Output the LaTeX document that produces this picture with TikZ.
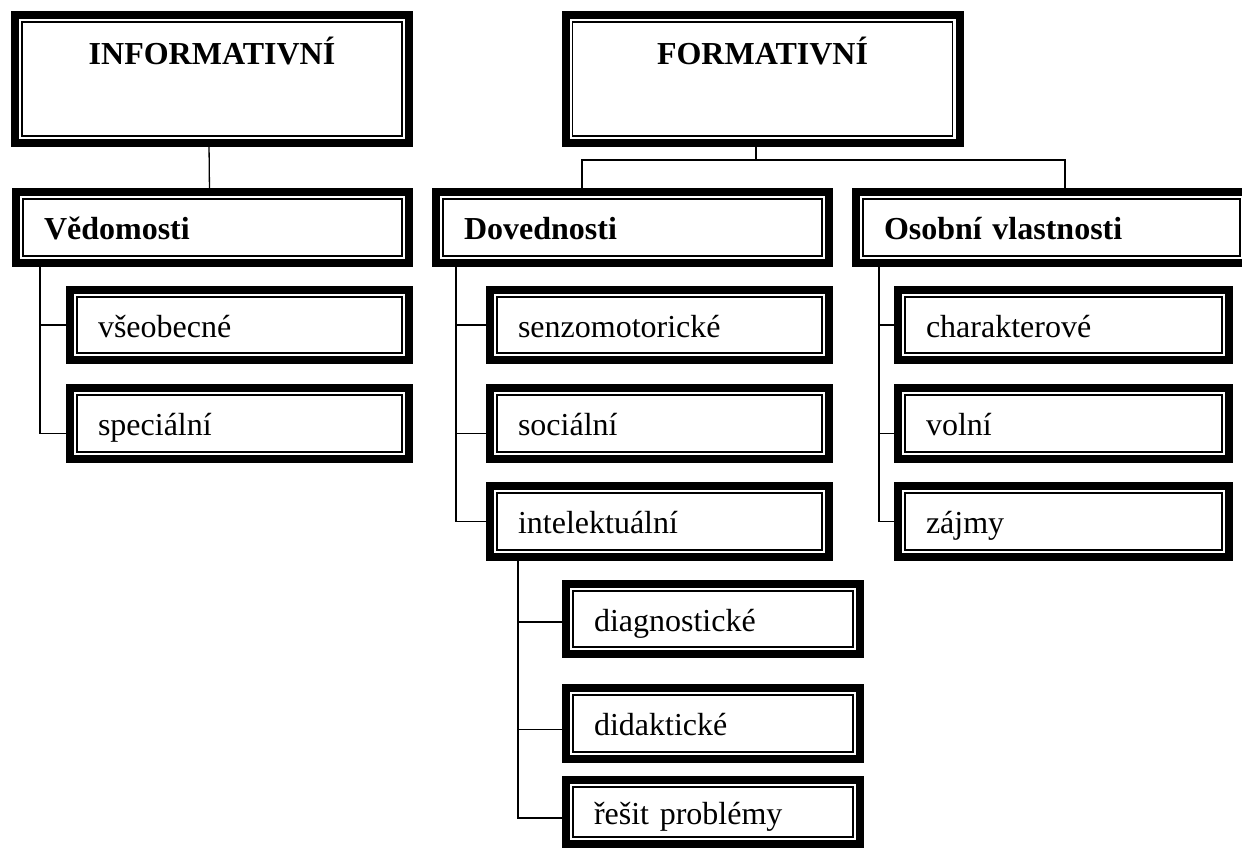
\documentclass[tikz,border=0pt]{standalone}
\usepackage{fontspec}
\setmainfont{Liberation Serif}
\tikzset{
  box/.style 2 args={draw,line width=8pt,inner xsep=28pt,inner ysep=0pt,outer sep=0pt,
    minimum width=#1,text width=#2,minimum height=70pt,align=left,
    text height=26pt,text depth=2pt,font=\fontsize{32}{38}\selectfont,
    path picture={\draw[line width=1.6pt]
      ([xshift=7pt,yshift=-7pt]path picture bounding box.north west) rectangle
      ([xshift=-7pt,yshift=7pt]path picture bounding box.south east);}},
  head/.style={font=\bfseries\fontsize{32}{38}\selectfont},
  top/.style={box={394pt}{338pt},head,align=center,minimum height=128pt,
    text height=22pt,text depth=50pt},
  link/.style={line width=1.3pt}
}
\begin{document}
\begin{tikzpicture}[x=1pt,y=-1pt]
                \useasboundingbox (0,0) rectangle (1242,850);
                % top level
                \node[top] (inf) at (212,79) {INFORMATIVNÍ};
                \node[top] (form) at (762.5,79) {FORMATIVNÍ};
                % second level
                \node[box={393pt}{337pt},head,minimum height=71pt] (ved) at (212.5,227.5) {Vědomosti};
                \node[box={393pt}{337pt},head,minimum height=71pt] (dov) at (632.5,227.5) {Dovednosti};
                \node[box={391pt}{335pt},head,minimum height=71pt] (osv) at (1051.5,227.5) {Osobní vlastnosti};
                % third level
                \node[box={339pt}{283pt}] (vse) at (239.5,325) {všeobecné};
                \node[box={339pt}{283pt},minimum height=71pt] (spe) at (239.5,423.5) {speciální};
                \node[box={339pt}{283pt}] (sen) at (659.5,325) {senzomotorické};
                \node[box={339pt}{283pt},minimum height=71pt] (soc) at (659.5,423.5) {sociální};
                \node[box={339pt}{283pt},minimum height=71pt] (int) at (659.5,521.5) {intelektuální};
                \node[box={331pt}{275pt}] (cha) at (1063.5,325) {charakterové};
                \node[box={331pt}{275pt},minimum height=71pt] (vol) at (1063.5,423.5) {volní};
                \node[box={331pt}{275pt},minimum height=71pt] (zaj) at (1063.5,521.5) {zájmy};
                % fourth level
                \node[box={294pt}{238pt}] (dia) at (713,619) {diagnostické};
                \node[box={294pt}{238pt},minimum height=71pt] (did) at (713,723.5) {didaktické};
                \node[box={294pt}{238pt},minimum height=64pt] (res) at (713,812) {řešit problémy};
                % connectors
                \coordinate (fbus) at (756,160);
                \coordinate (dbus) at (582,160);
                \coordinate (obus) at (1065,160);
                \coordinate (vbus) at (40,0);
                \coordinate (sbus) at (456,0);
                \coordinate (pbus) at (879,0);
                \coordinate (ibus) at (518,0);
                \coordinate (spein) at ([yshift=-10pt]spe.west);
                \coordinate (socin) at ([yshift=-10pt]soc.west);
                \coordinate (volin) at ([yshift=-10pt]vol.west);
                \coordinate (diain) at ([yshift=-3pt]dia.west);
                \coordinate (didin) at ([yshift=-6pt]did.west);
                \coordinate (resin) at ([yshift=-6pt]res.west);
                \draw[link] ([xshift=-3pt]inf.south) -- ([xshift=-3pt]ved.north);
                \draw[link] (form.south -| fbus) -- (fbus);
                \draw[link] (dov.north -| dbus) -- (dbus) -- (obus) -- (osv.north -| obus);
                \draw[link] (ved.south -| vbus) |- (spein);
                \draw[link] (vbus |- vse.west) -- (vse.west);
                \draw[link] (dov.south -| sbus) |- (int.west);
                \draw[link] (sbus |- sen.west) -- (sen.west);
                \draw[link] (sbus |- socin) -- (socin);
                \draw[link] (osv.south -| pbus) |- (zaj.west);
                \draw[link] (pbus |- cha.west) -- (cha.west);
                \draw[link] (pbus |- volin) -- (volin);
                \draw[link] (int.south -| ibus) |- (resin);
                \draw[link] (ibus |- diain) -- (diain);
                \draw[link] (ibus |- didin) -- (didin);
            \end{tikzpicture}
\end{document}
